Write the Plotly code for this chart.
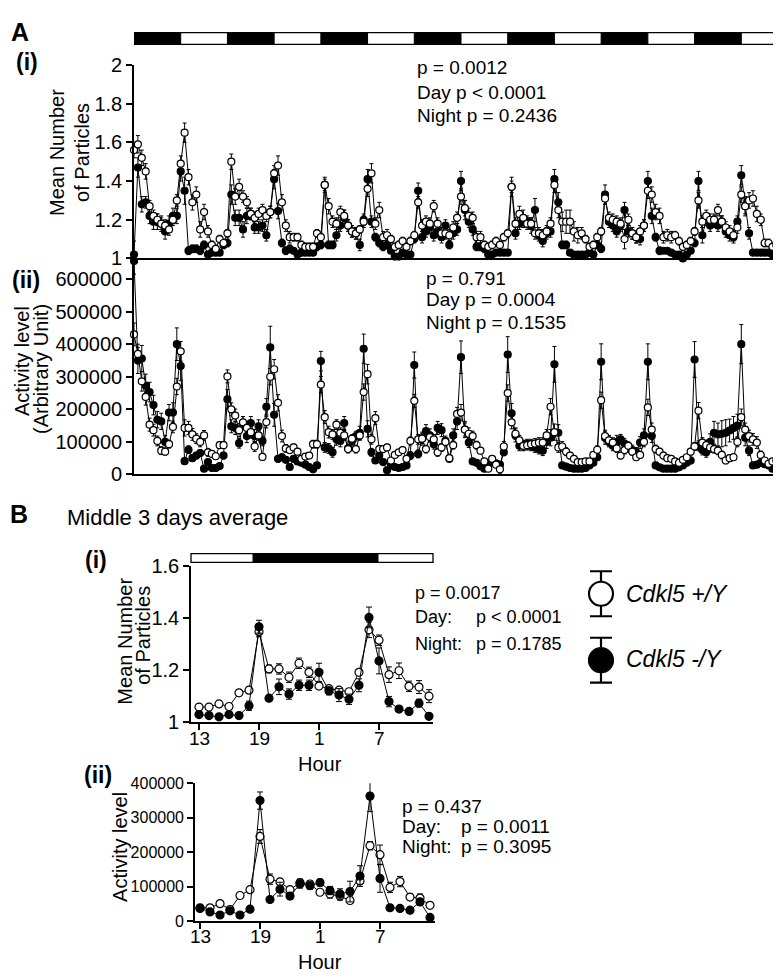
import plotly.graph_objects as go

W, H = 781, 976
FONT = "Liberation Sans, Arial, sans-serif"

# ---------------- DATA ----------------
# Panel A: 7 days hourly (index 0 = 19:00, lights off)
hours_A = list(range(168))

particles_wt = [
    1.56, 1.59, 1.52, 1.45, 1.27, 1.22, 1.20, 1.18, 1.17, 1.15, 1.20, 1.30,
    1.49, 1.65, 1.42, 1.29, 1.33, 1.15, 1.24, 1.14, 1.07, 1.05, 1.10, 1.08,
    1.13, 1.50, 1.32, 1.37, 1.32, 1.29, 1.23, 1.21, 1.23, 1.25, 1.22, 1.24,
    1.44, 1.48, 1.29, 1.17, 1.11, 1.11, 1.11, 1.07, 1.06, 1.06, 1.06, 1.13,
    1.11, 1.38, 1.27, 1.19, 1.18, 1.24, 1.22, 1.17, 1.14, 1.13, 1.15, 1.19,
    1.36, 1.44, 1.18, 1.25, 1.11, 1.12, 1.10, 1.06, 1.07, 1.09, 1.06, 1.09,
    1.12, 1.29, 1.17, 1.19, 1.18, 1.27, 1.18, 1.13, 1.13, 1.12, 1.16, 1.21,
    1.32, 1.26, 1.22, 1.21, 1.11, 1.11, 1.07, 1.06, 1.07, 1.09, 1.07, 1.11,
    1.13, 1.37, 1.18, 1.23, 1.21, 1.18, 1.18, 1.13, 1.13, 1.12, 1.14, 1.18,
    1.38, 1.25, 1.19, 1.19, 1.19, 1.14, 1.12, 1.13, 1.10, 1.06, 1.07, 1.11,
    1.14, 1.31, 1.21, 1.20, 1.19, 1.18, 1.10, 1.20, 1.13, 1.11, 1.14, 1.17,
    1.35, 1.33, 1.24, 1.22, 1.11, 1.12, 1.11, 1.12, 1.09, 1.06, 1.07, 1.09,
    1.14, 1.30, 1.19, 1.22, 1.20, 1.20, 1.25, 1.19, 1.16, 1.14, 1.12, 1.16,
    1.33, 1.27, 1.30, 1.31, 1.23, 1.20, 1.08, 1.08, 1.06, 1.07, 1.10, 1.18,
]
particles_wt_sem = [
    .04, .045, .04, .04, .03, .03, .03, .03, .03, .03, .03, .03,
    .04, .05, .04, .04, .04, .04, .04, .03, .02, .02, .02, .02,
    .02, .04, .04, .04, .03, .03, .03, .03, .03, .03, .03, .03,
    .04, .05, .04, .03, .03, .02, .02, .02, .02, .02, .02, .02,
    .02, .03, .04, .03, .03, .03, .03, .03, .03, .03, .02, .03,
    .04, .05, .03, .04, .03, .03, .02, .02, .02, .02, .02, .02,
    .02, .03, .03, .03, .03, .03, .03, .03, .03, .03, .03, .03,
    .04, .04, .04, .03, .03, .03, .02, .02, .02, .02, .02, .02,
    .02, .03, .03, .04, .04, .03, .03, .03, .03, .03, .03, .03,
    .04, .04, .05, .06, .06, .05, .04, .03, .02, .02, .02, .02,
    .02, .03, .03, .03, .03, .03, .05, .03, .03, .03, .03, .03,
    .04, .04, .04, .04, .03, .03, .03, .02, .02, .02, .02, .02,
    .02, .04, .03, .03, .03, .03, .03, .03, .03, .03, .03, .03,
    .04, .04, .04, .04, .04, .03, .02, .02, .02, .02, .02, .02,
]
particles_ko = [
    1.02, 1.47, 1.28, 1.29, 1.22, 1.19, 1.19, 1.18, 1.14, 1.18, 1.22, 1.22,
    1.45, 1.35, 1.04, 1.05, 1.05, 1.04, 1.07, 1.02, 1.03, 1.03, 1.03, 1.07,
    1.08, 1.33, 1.21, 1.21, 1.15, 1.22, 1.23, 1.16, 1.16, 1.17, 1.12, 1.24,
    1.41, 1.245, 1.08, 1.04, 1.05, 1.04, 1.02, 1.03, 1.03, 1.03, 1.03, 1.06,
    1.07, 1.38, 1.07, 1.07, 1.12, 1.17, 1.21, 1.17, 1.14, 1.13, 1.07, 1.20,
    1.41, 1.19, 1.11, 1.08, 1.06, 1.07, 1.04, 1.01, 1.01, 1.03, 1.02, 1.02,
    1.10, 1.35, 1.11, 1.14, 1.16, 1.12, 1.14, 1.11, 1.17, 1.07, 1.13, 1.15,
    1.40, 1.25, 1.19, 1.15, 1.06, 1.06, 1.05, 1.02, 1.02, 1.03, 1.03, 1.03,
    1.03, 1.37, 1.13, 1.18, 1.19, 1.19, 1.17, 1.25, 1.12, 1.09, 1.13, 1.14,
    1.41, 1.29, 1.07, 1.07, 1.03, 1.02, 1.02, 1.02, 1.02, 1.03, 1.02, 1.07,
    1.05, 1.33, 1.19, 1.17, 1.14, 1.17, 1.25, 1.14, 1.13, 1.11, 1.10, 1.17,
    1.40, 1.22, 1.11, 1.04, 1.04, 1.04, 1.03, 1.02, 1.02, 1.00, 1.02, 1.04,
    1.08, 1.40, 1.12, 1.20, 1.17, 1.19, 1.17, 1.19, 1.14, 1.12, 1.11, 1.19,
    1.43, 1.27, 1.13, 1.03, 1.03, 1.03, 1.03, 1.03, 1.02, 1.03, 1.03, 1.03,
]
particles_ko_sem = [
    .07, .05, .04, .03, .04, .04, .04, .04, .04, .04, .04, .04,
    .05, .07, .02, .02, .02, .02, .02, .01, .01, .01, .01, .02,
    .02, .05, .04, .04, .04, .04, .03, .03, .03, .03, .03, .03,
    .05, .04, .02, .02, .02, .01, .01, .01, .01, .01, .01, .02,
    .02, .04, .02, .02, .03, .03, .04, .03, .03, .03, .03, .03,
    .05, .03, .02, .02, .02, .02, .01, .01, .01, .01, .01, .01,
    .02, .04, .03, .03, .03, .03, .03, .03, .03, .02, .03, .03,
    .05, .05, .03, .03, .02, .02, .02, .01, .01, .01, .01, .01,
    .01, .05, .03, .03, .03, .03, .04, .06, .03, .03, .03, .03,
    .05, .05, .02, .02, .01, .01, .01, .01, .01, .01, .01, .02,
    .02, .05, .03, .03, .03, .03, .04, .03, .03, .03, .03, .03,
    .05, .04, .02, .02, .01, .01, .01, .01, .01, .01, .01, .01,
    .02, .05, .04, .03, .03, .03, .03, .03, .03, .03, .03, .03,
    .05, .05, .03, .01, .01, .01, .01, .01, .01, .01, .01, .01,
]
activity_wt = [  # thousands
    430, 370, 286, 238, 153, 136, 103, 73, 70, 93, 146, 270,
    378, 143, 143, 123, 110, 100, 120, 68, 63, 56, 90, 90,
    301, 200, 181, 136, 160, 143, 130, 86, 120, 54, 161, 300,
    323, 220, 118, 80, 75, 83, 70, 48, 55, 58, 93, 93,
    276, 176, 130, 123, 153, 128, 120, 78, 110, 78, 120, 253,
    308, 108, 173, 78, 78, 83, 43, 60, 68, 75, 48, 103,
    226, 108, 110, 78, 115, 108, 68, 83, 100, 50, 90, 186,
    190, 138, 125, 118, 90, 73, 40, 18, 48, 30, 16, 86,
    250, 160, 125, 105, 88, 90, 93, 95, 98, 98, 120, 208,
    130, 83, 86, 70, 58, 48, 38, 38, 40, 40, 60, 76,
    228, 118, 105, 98, 80, 58, 75, 88, 70, 53, 60, 100,
    206, 138, 78, 70, 58, 50, 48, 40, 36, 45, 53, 70,
    86, 196, 98, 90, 83, 78, 73, 60, 43, 50, 53, 100,
    176, 138, 118, 108, 98, 60, 43, 33, 40, 43, 60, 78,
]
activity_wt_sem = [
    35, 30, 30, 25, 20, 18, 15, 12, 10, 12, 18, 25,
    30, 25, 20, 18, 15, 15, 15, 12, 10, 10, 10, 10,
    20, 20, 20, 20, 18, 18, 18, 15, 15, 10, 18, 25,
    30, 25, 18, 12, 10, 10, 10, 8, 8, 8, 12, 12,
    25, 20, 18, 15, 15, 15, 15, 12, 12, 12, 15, 25,
    30, 15, 20, 10, 10, 10, 8, 8, 8, 8, 8, 12,
    20, 15, 15, 12, 15, 15, 12, 12, 12, 10, 12, 20,
    25, 20, 18, 15, 12, 8, 6, 8, 6, 6, 12, 15,
    25, 20, 18, 15, 15, 15, 15, 15, 15, 15, 18, 25,
    25, 15, 15, 12, 10, 8, 8, 8, 8, 8, 10, 12,
    25, 18, 15, 15, 12, 10, 12, 12, 10, 10, 10, 15,
    25, 20, 12, 10, 10, 8, 8, 8, 8, 8, 8, 10,
    12, 25, 15, 15, 15, 12, 12, 12, 10, 10, 10, 15,
    25, 20, 18, 18, 18, 12, 8, 8, 8, 8, 10, 12,
]
activity_ko = [  # thousands
    655, 350, 356, 273, 253, 213, 168, 163, 100, 190, 190, 400,
    333, 41, 76, 50, 58, 66, 18, 38, 20, 20, 26, 58,
    231, 148, 143, 96, 158, 118, 158, 118, 148, 103, 208, 390,
    183, 48, 53, 45, 23, 48, 40, 36, 30, 23, 16, 28,
    348, 83, 80, 68, 108, 103, 158, 80, 103, 118, 128, 386,
    140, 68, 43, 58, 38, 13, 28, 23, 20, 23, 28, 58,
    336, 63, 110, 133, 120, 93, 143, 136, 103, 48, 120, 163,
    360, 138, 98, 40, 36, 25, 18, 30, 38, 34, 30, 68,
    368, 188, 120, 88, 90, 93, 88, 83, 78, 73, 100, 113,
    338, 128, 28, 24, 20, 18, 18, 18, 20, 28, 36, 53,
    346, 113, 100, 88, 100, 108, 95, 83, 75, 68, 98, 120,
    346, 118, 28, 22, 18, 18, 18, 18, 22, 28, 36, 43,
    353, 88, 75, 68, 100, 128, 123, 125, 128, 135, 143, 150,
    400, 113, 73, 28, 30, 36, 32, 28, 18, 22, 28, 18,
]
activity_ko_sem = [
    40, 40, 40, 35, 30, 30, 25, 25, 20, 25, 30, 50,
    45, 10, 12, 10, 10, 10, 6, 8, 6, 6, 6, 10,
    30, 20, 20, 15, 20, 20, 20, 20, 20, 15, 25, 65,
    35, 10, 10, 8, 6, 8, 8, 6, 6, 6, 5, 6,
    30, 15, 15, 15, 18, 18, 20, 12, 15, 15, 20, 45,
    25, 12, 8, 10, 8, 5, 6, 6, 6, 6, 10, 12,
    40, 12, 20, 20, 20, 15, 20, 20, 15, 10, 20, 25,
    50, 25, 15, 8, 8, 6, 5, 6, 6, 6, 6, 10,
    55, 30, 20, 15, 15, 15, 15, 15, 15, 15, 20, 25,
    55, 25, 6, 6, 5, 5, 5, 5, 5, 6, 8, 10,
    55, 20, 15, 15, 20, 15, 15, 15, 15, 15, 18, 20,
    55, 20, 6, 5, 5, 5, 5, 5, 5, 6, 8, 10,
    55, 15, 15, 15, 25, 35, 35, 40, 40, 35, 35, 35,
    60, 25, 15, 6, 6, 6, 6, 5, 5, 5, 5, 5,
]

# Panel B: middle 3 days average, 24 hourly bins starting at 13:00
hour_labels_B = [13, 14, 15, 16, 17, 18, 19, 20, 21, 22, 23, 0,
                 1, 2, 3, 4, 5, 6, 7, 8, 9, 10, 11, 12]
hour_tick_idx = [0, 6, 12, 18]
hour_ticks_B = ["13", "19", "1", "7"]
b_particles_wt = [1.057, 1.057, 1.069, 1.059, 1.112, 1.122, 1.348, 1.204, 1.204, 1.172, 1.226, 1.191,
                  1.138, 1.128, 1.122, 1.116, 1.191, 1.355, 1.315, 1.182, 1.197, 1.137, 1.134, 1.099]
b_particles_wt_sem = [0.006, 0.006, 0.006, 0.006, 0.01, 0.012, 0.02, 0.015, 0.02, 0.02, 0.02, 0.02,
                      0.012, 0.01, 0.01, 0.01, 0.01, 0.03, 0.02, 0.03, 0.03, 0.02, 0.025, 0.025]
b_particles_ko = [1.028, 1.024, 1.019, 1.028, 1.024, 1.062, 1.367, 1.091, 1.135, 1.107, 1.141, 1.141,
                  1.191, 1.119, 1.103, 1.087, 1.141, 1.403, 1.235, 1.078, 1.049, 1.040, 1.072, 1.021]
b_particles_ko_sem = [0.005, 0.005, 0.005, 0.008, 0.006, 0.018, 0.025, 0.01, 0.03, 0.02, 0.02, 0.02,
                      0.035, 0.015, 0.025, 0.02, 0.025, 0.04, 0.05, 0.02, 0.01, 0.008, 0.015, 0.008]
b_activity_wt = [38.8, 38.8, 51, 34, 74.5, 91.5, 246, 122, 114, 91.5, 112, 108,
                 84, 79, 73, 60, 117, 219, 193, 98, 115, 70, 67, 46]
b_activity_wt_sem = [5, 5, 5, 4, 6, 8, 20, 15, 10, 8, 10, 10, 8, 12, 12, 8, 10, 12, 28, 15, 15, 8, 12, 8]
b_activity_ko = [37, 27, 18, 30, 18, 35, 350, 63, 93, 73, 108, 103,
                 112, 89, 79, 86, 131, 363, 124, 39, 37, 32, 56, 11]
b_activity_ko_sem = [5, 4, 4, 5, 4, 5, 25, 8, 20, 10, 12, 10, 10, 12, 15, 30, 30, 45, 40, 8, 8, 8, 10, 5]

stats_A1 = ["p = 0.0012", "Day p < 0.0001", "Night p = 0.2436"]
stats_A2 = ["p = 0.791", "Day p = 0.0004", "Night p = 0.1535"]
stats_B1 = [("", "p = 0.0017"), ("Day:", "p < 0.0001"), ("Night:", "p = 0.1785")]
stats_B2 = [("", "p = 0.437"), ("Day:", "p = 0.0011"), ("Night:", "p = 0.3095")]
legend_labels = ["Cdkl5 +/Y", "Cdkl5 -/Y"]

# ---------------- HELPERS ----------------
def fx(x):
    return x / W


def fy(y):
    return 1 - y / H


idx_B = list(range(24))


def series(x, y, err, filled, xa, ya, msize=7, cap=2):
    return go.Scatter(
        x=x, y=y, xaxis=xa, yaxis=ya, mode="lines+markers", cliponaxis=False,
        line=dict(color="black", width=1),
        marker=dict(symbol="circle", size=msize, color="black" if filled else "white",
                    line=dict(color="black", width=1.2)),
        error_y=dict(type="data", array=err, color="black", thickness=1, width=cap, visible=True),
        showlegend=False, hoverinfo="skip",
    )


fig = go.Figure()
k = 1000
# Panel A(i)
fig.add_trace(series(hours_A, particles_ko, particles_ko_sem, True, "x", "y"))
fig.add_trace(series(hours_A, particles_wt, particles_wt_sem, False, "x", "y"))
# Panel A(ii)
fig.add_trace(series(hours_A, [v * k for v in activity_ko], [v * k for v in activity_ko_sem], True, "x2", "y2"))
fig.add_trace(series(hours_A, [v * k for v in activity_wt], [v * k for v in activity_wt_sem], False, "x2", "y2"))
# Panel B(i)
fig.add_trace(series(idx_B, b_particles_wt, b_particles_wt_sem, False, "x3", "y3", msize=8, cap=3))
fig.add_trace(series(idx_B, b_particles_ko, b_particles_ko_sem, True, "x3", "y3", msize=8, cap=3))
# Panel B(ii)
fig.add_trace(series(idx_B, [v * k for v in b_activity_wt], [v * k for v in b_activity_wt_sem], False, "x4", "y4", msize=8, cap=3))
fig.add_trace(series(idx_B, [v * k for v in b_activity_ko], [v * k for v in b_activity_ko_sem], True, "x4", "y4", msize=8, cap=3))

# Legend glyphs (own hidden axis)
legend_pos = [38, 106]
for i, filled in enumerate([False, True]):
    fig.add_trace(go.Scatter(
        x=[0], y=[legend_pos[i]], xaxis="x5", yaxis="y5", mode="markers", cliponaxis=False,
        marker=dict(size=24, color="black" if filled else "white", line=dict(color="black", width=2.2)),
        error_y=dict(type="data", array=[23], color="black", thickness=2.2, width=11),
        showlegend=False, hoverinfo="skip"))

tickfont = dict(family=FONT, size=20, color="black")
axline = dict(showline=True, linecolor="black", linewidth=1.6, showgrid=False, zeroline=False,
              ticks="outside", ticklen=6, tickwidth=1.6, tickcolor="black")

layout = dict(
    width=W, height=H, margin=dict(l=0, r=0, t=0, b=0),
    paper_bgcolor="white", plot_bgcolor="white",
    font=dict(family=FONT, color="black"),
    xaxis=dict(domain=[fx(126), fx(780)], range=[0, 168], anchor="y", showline=True, linecolor="black",
               linewidth=1.6, showgrid=False, zeroline=False, showticklabels=False, ticks=""),
    yaxis=dict(domain=[fy(245), fy(47)], range=[1, 2], anchor="x",
               tickvals=[1, 1.2, 1.4, 1.6, 1.8, 2], ticktext=["1", "1.2", "1.4", "1.6", "1.8", "2"],
               tickfont=tickfont, **axline),
    xaxis2=dict(domain=[fx(126), fx(780)], range=[0, 168], anchor="y2", showline=True, linecolor="black",
                linewidth=1.6, showgrid=False, zeroline=False, showticklabels=False, ticks=""),
    yaxis2=dict(domain=[fy(466), fy(245)], range=[0, 663000], anchor="x2",
                tickvals=[0, 100000, 200000, 300000, 400000, 500000, 600000], tickformat="d",
                tickfont=tickfont, **axline),
    xaxis3=dict(domain=[fx(183), fx(425)], range=[-0.8, 23.4], anchor="y3",
                tickvals=hour_tick_idx, showticklabels=False, **axline),
    yaxis3=dict(domain=[fy(719), fy(560)], range=[1, 1.6], anchor="x3",
                tickvals=[1, 1.2, 1.4, 1.6], ticktext=["1", "1.2", "1.4", "1.6"],
                tickfont=tickfont, **axline),
    xaxis4=dict(domain=[fx(187), fx(427)], range=[-0.5, 23.5], anchor="y4",
                tickvals=hour_tick_idx, showticklabels=False, **axline),
    yaxis4=dict(domain=[fy(923), fy(782)], range=[0, 400000], anchor="x4",
                tickvals=[0, 100000, 200000, 300000, 400000], tickformat="d",
                tickfont=dict(family=FONT, size=16, color="black"), **axline),
    xaxis5=dict(domain=[fx(570), fx(616)], range=[-23, 23], anchor="y5", visible=False),
    yaxis5=dict(domain=[fy(690), fy(550)], range=[140, 0], anchor="x5", visible=False),
)
fig.update_layout(**layout)

# ---------------- light/dark bars ----------------
shapes = []
shapes.append(dict(type="rect", xref="x", yref="paper", x0=0, x1=168, y0=fy(26), y1=fy(14),
                   fillcolor="white", line=dict(color="black", width=1.3)))
for d in range(7):
    shapes.append(dict(type="rect", xref="x", yref="paper", x0=24 * d, x1=24 * d + 12,
                       y0=fy(26), y1=fy(14), fillcolor="black", line=dict(color="black", width=1)))
shapes.append(dict(type="rect", xref="x3 domain", yref="paper", x0=0, x1=1, y0=fy(556), y1=fy(547),
                   fillcolor="white", line=dict(color="black", width=1.3)))
shapes.append(dict(type="rect", xref="x3", yref="paper", x0=5.4, x1=17.9, y0=fy(556), y1=fy(547),
                   fillcolor="black", line=dict(color="black", width=1)))
fig.update_layout(shapes=shapes)

# ---------------- text ----------------
ann = []


def text(t, x, y, size, bold=False, xanchor="left", angle=0, italic=False):
    if bold:
        t = "<b>" + t + "</b>"
    if italic:
        t = "<i>" + t + "</i>"
    ann.append(dict(text=t, x=fx(x), y=fy(y), xref="paper", yref="paper", showarrow=False,
                    xanchor=xanchor, yanchor="middle", textangle=angle,
                    font=dict(family=FONT, size=size, color="black")))


# B hour tick labels placed on the data axes
for xa, ylab in (("x3", 736), ("x4", 939)):
    for v, lab in zip(hour_tick_idx, hour_ticks_B):
        ann.append(dict(text=lab, x=v, y=fy(ylab), xref=xa, yref="paper", showarrow=False,
                        xanchor="center", yanchor="middle",
                        font=dict(family=FONT, size=19, color="black")))

text("A", 1, 13, 25, bold=True)
text("(i)", 6, 44, 23, bold=True)
text("(ii)", 2, 267, 23, bold=True)
text("B", 0, 506, 25, bold=True)
text("Middle 3 days average", 57, 510, 22)
text("(i)", 75, 553, 23, bold=True)
text("(ii)", 74, 773, 23, bold=True)

text("Mean Number", 49, 137, 20, xanchor="center", angle=-90)
text("of Particles", 74, 137, 20, xanchor="center", angle=-90)
text("Activity level", 14, 350, 20, xanchor="center", angle=-90)
text("(Arbitrary Unit)", 33, 358, 20, xanchor="center", angle=-90)
text("Mean Number", 117, 637, 20, xanchor="center", angle=-90)
text("of Particles", 135, 631, 20, xanchor="center", angle=-90)
text("Activity level", 112, 847, 20, xanchor="center", angle=-90)
text("Hour", 312, 762, 20, xanchor="center")
text("Hour", 312, 965, 20, xanchor="center")

for i, s in enumerate(stats_A1):
    text(s, 407, [50, 75, 99][i], 19)
for i, s in enumerate(stats_A2):
    text(s, 416, [265, 287, 310][i], 19)
for i, (a, b) in enumerate(stats_B1):
    yy = [587, 612, 639][i]
    if a:
        text(a, 405, yy, 18)
        text(b, 466, yy, 18)
    else:
        text(b, 405, yy, 18)
for i, (a, b) in enumerate(stats_B2):
    yy = [806, 826, 847][i]
    if a:
        text(a, 392, yy, 19)
        text(b, 451, yy, 19)
    else:
        text(b, 392, yy, 19)

text(legend_labels[0], 616, 588, 23, italic=True)
text(legend_labels[1], 616, 655, 23, italic=True)

fig.update_layout(annotations=ann)
fig.write_html("out.html")
